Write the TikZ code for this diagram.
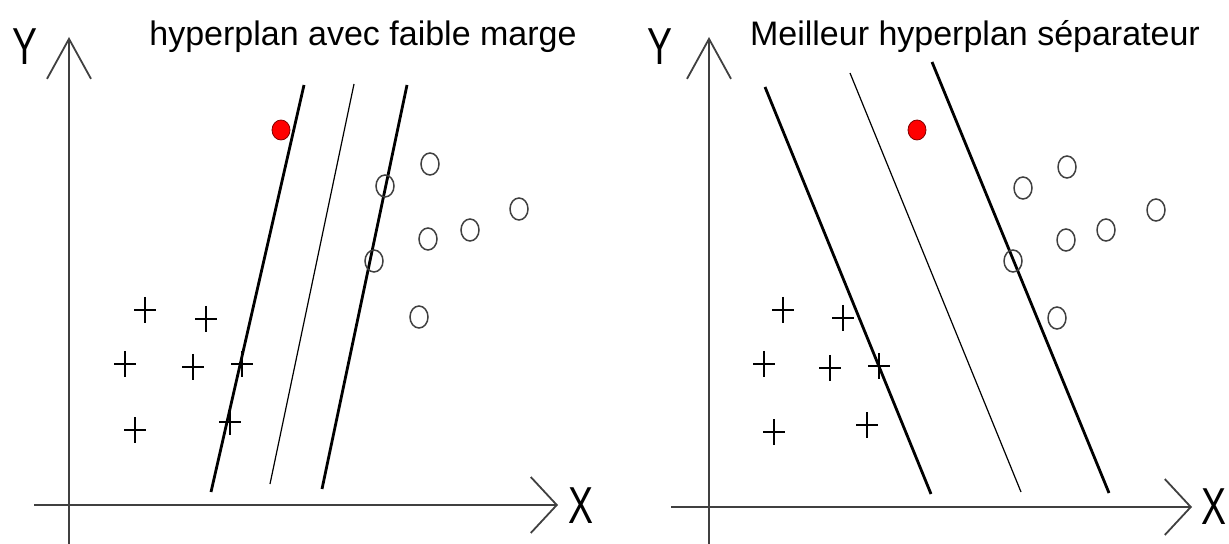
\documentclass[tikz,border=0pt]{standalone}
\usepackage{fontspec}
\setmainfont{Liberation Sans}
\usepackage{tikz}
\usetikzlibrary{arrows.meta, shapes.geometric}

\begin{document}
\begin{tikzpicture}[x=0.5pt, y=-0.5pt,
    axis/.style={line width=1pt, draw=black!75},
    yarr/.style={-{Straight Barb[length=20pt, width=22pt, line width=0.9pt]}},
    xarr/.style={-{Straight Barb[length=13pt, width=28pt, line width=0.9pt]}},
    marge/.style={line width=1.4pt},
    sep/.style={line width=0.6pt},
    axlabel/.style={font=\fontsize{26}{26}\selectfont, inner sep=0pt},
    title/.style={font=\fontsize{17}{17}\selectfont, anchor=base, inner sep=0pt},
    circpt/.style={ellipse, draw=black!75, line width=0.75pt, minimum width=9pt, minimum height=11pt, inner sep=0pt},
    redpt/.style={ellipse, draw=red!50!black, line width=0.4pt, fill=red, minimum width=9pt, minimum height=10pt, inner sep=0pt},
    pluspt/.style={minimum width=11pt, minimum height=13pt, inner sep=0pt,
      path picture={\draw[line width=0.7pt]
        (path picture bounding box.north) -- (path picture bounding box.south)
        (path picture bounding box.west) -- (path picture bounding box.east);}}]
  \useasboundingbox (0,0) rectangle (1229,544);

  % left: faible marge
  \coordinate (yl0) at (69,544); \coordinate (yl1) at (69,37);
  \coordinate (xl0) at (34,505); \coordinate (xl1) at (558,505);
  \draw[axis, yarr] (yl0) -- (yl1);
  \draw[axis, xarr] (xl0) -- (xl1);
  \node[axlabel] (ylab) at (25,47) {\scalebox{0.72}[1]{Y}};
  \node[axlabel] (xlab) at (581,506) {\scalebox{0.72}[1]{X}};
  \node[title] (tleft) at (363,46) {hyperplan avec faible marge};
  \coordinate (la1) at (304,85); \coordinate (la2) at (211,492);
  \coordinate (lb1) at (354,84); \coordinate (lb2) at (270,484);
  \coordinate (lc1) at (407,85); \coordinate (lc2) at (322,489);
  \draw[marge] (la1) -- (la2);
  \draw[sep] (lb1) -- (lb2);
  \draw[marge] (lc1) -- (lc2);
  \node[redpt] (rl) at (281,130) {};
  \foreach \n/\p in {1/{(430,164)}, 2/{(385,186)}, 3/{(519,209)}, 4/{(470,230)},
                     5/{(428,239)}, 6/{(374,261)}, 7/{(419,317)}}
    \node[circpt] (cl\n) at \p {};
  \foreach \n/\p in {1/{(145,310)}, 2/{(206,319)}, 3/{(125,364)}, 4/{(193,367)},
                     5/{(242,364)}, 6/{(135,430)}, 7/{(230,422)}}
    \node[pluspt] (pl\n) at \p {};

  % right: meilleur hyperplan
  \coordinate (yr0) at (709,544); \coordinate (yr1) at (709,37);
  \coordinate (xr0) at (671,507); \coordinate (xr1) at (1192,507);
  \draw[axis, yarr] (yr0) -- (yr1);
  \draw[axis, xarr] (xr0) -- (xr1);
  \node[axlabel] (ylabr) at (660,47) {\scalebox{0.72}[1]{Y}};
  \node[axlabel] (xlabr) at (1214,507) {\scalebox{0.72}[1]{X}};
  \node[title] (tright) at (975,46) {Meilleur hyperplan séparateur};
  \coordinate (ra1) at (765,87); \coordinate (ra2) at (931,494);
  \coordinate (rb1) at (850,73); \coordinate (rb2) at (1021,492);
  \coordinate (rc1) at (932,62); \coordinate (rc2) at (1109,493);
  \draw[marge] (ra1) -- (ra2);
  \draw[sep] (rb1) -- (rb2);
  \draw[marge] (rc1) -- (rc2);
  \node[redpt] (rr) at (917,130) {};
  \foreach \n/\p in {1/{(1067,167)}, 2/{(1023,188)}, 3/{(1156,210)}, 4/{(1106,230)},
                     5/{(1066,240)}, 6/{(1013,261)}, 7/{(1057,318)}}
    \node[circpt] (cr\n) at \p {};
  \foreach \n/\p in {1/{(783,310)}, 2/{(843,318)}, 3/{(764,364)}, 4/{(830,368)},
                     5/{(879,366)}, 6/{(774,432)}, 7/{(867,425)}}
    \node[pluspt] (pr\n) at \p {};
\end{tikzpicture}
\end{document}
